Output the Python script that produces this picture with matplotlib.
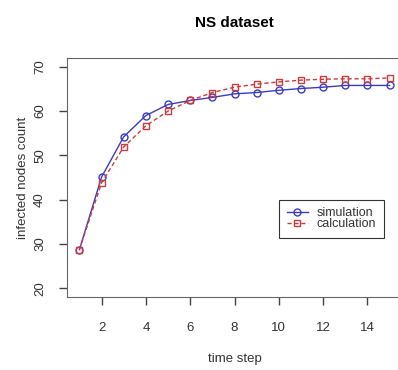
import matplotlib.pyplot as plt

plt.rcParams['font.family'] = ['Liberation Sans', 'DejaVu Sans']

steps = list(range(1, 16))
simulation = [28.7, 45.1, 54.2, 59.0, 61.5, 62.4, 63.1, 63.9, 64.2, 64.7, 65.1, 65.4, 65.8, 65.8, 65.8]
calculation = [28.7, 43.8, 51.9, 56.7, 60.0, 62.4, 64.2, 65.4, 66.1, 66.6, 67.0, 67.2, 67.3, 67.3, 67.5]
xticks = [2, 4, 6, 8, 10, 12, 14]
yticks = [20, 30, 40, 50, 60, 70]

fig = plt.figure(figsize=(3.98, 3.70), dpi=100)
ax = fig.add_axes([67 / 398, 1 - 297 / 370, 335 / 398, 239 / 370])

ax.plot(steps, simulation, color="#3b3bc8", lw=1, marker="o", ms=5,
        mfc="none", mew=1, label="simulation")
ax.plot(steps, calculation, color="#cc3b3b", lw=1, ls=(0, (3, 2)), marker="s", ms=5,
        mfc="none", mew=1, label="calculation")

ax.set_xlim(0.44, 15.56)
ax.set_ylim(18, 72)
ax.set_xticks(xticks)
ax.set_yticks(yticks)
ax.set_yticklabels([str(v) for v in yticks], rotation=90, va="center")
ax.tick_params(colors="#444444", labelcolor="#333333", length=6, width=1, labelsize=9.5, pad=9)
ax.tick_params(axis="x", pad=12)
for s in ax.spines.values():
    s.set_color("#666666")

ax.set_xlabel("time step", fontsize=9.5, color="#333333", labelpad=14)
ax.set_ylabel("infected nodes count", fontsize=9.5, color="#333333", labelpad=4)
ax.set_title("NS dataset", fontsize=11, fontweight="bold", pad=22)

leg = ax.legend(loc="upper left", bbox_to_anchor=((279 - 67) / 335, 1 - (200 - 58) / 239),
                fontsize=9, frameon=True, fancybox=False, edgecolor="black",
                handlelength=1.7, handletextpad=0.7, borderpad=0.6, labelspacing=-0.1,
                borderaxespad=0)
leg.get_frame().set_linewidth(0.8)
for t in leg.get_texts():
    t.set_color("#333333")

fig.savefig("out.png")
